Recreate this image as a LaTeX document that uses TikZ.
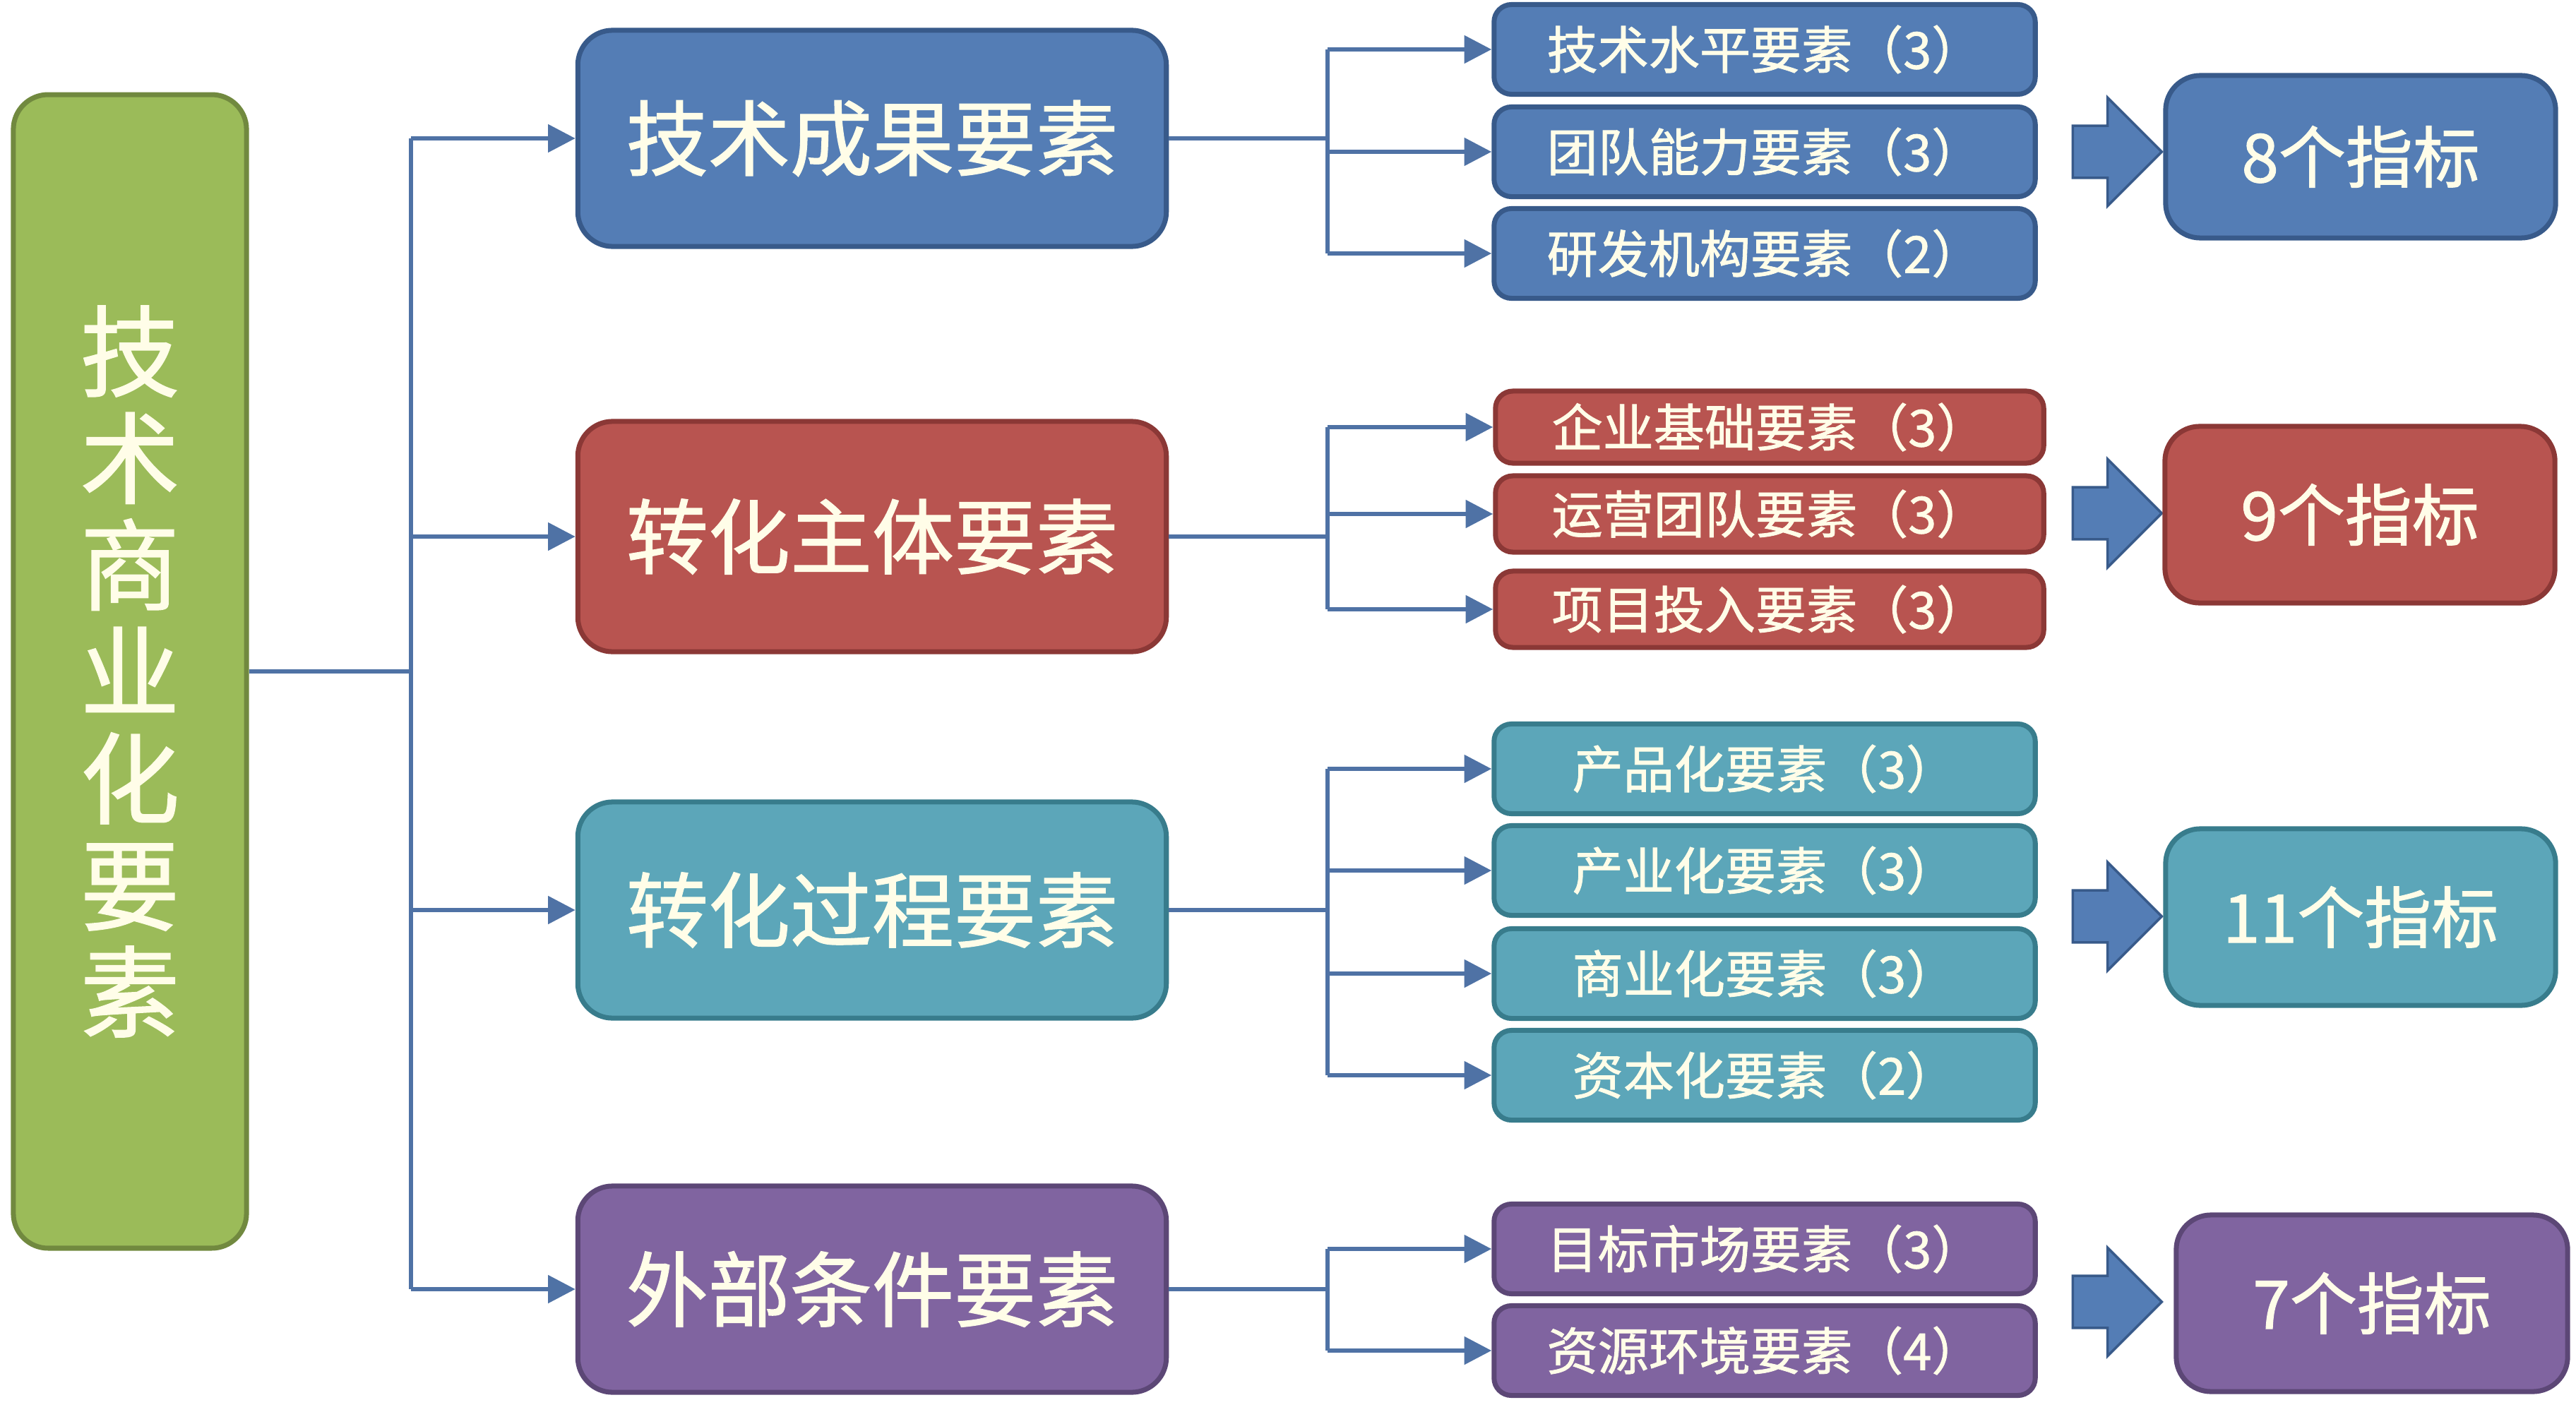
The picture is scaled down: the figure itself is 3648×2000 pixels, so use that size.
\documentclass[tikz,border=0pt]{standalone}
\usepackage{fontspec}
\setmainfont{Noto Sans CJK SC}[BoldFont=Noto Sans CJK SC, BoldFeatures={FakeBold=1.2}]
\usetikzlibrary{arrows.meta,shapes.arrows}
\definecolor{rootfill}{RGB}{155,187,89}
\definecolor{rootline}{RGB}{113,137,63}
\definecolor{bluefill}{RGB}{84,125,181}
\definecolor{blueline}{RGB}{56,90,138}
\definecolor{redfill}{RGB}{184,84,80}
\definecolor{redline}{RGB}{139,56,54}
\definecolor{tealfill}{RGB}{92,166,185}
\definecolor{tealline}{RGB}{56,124,140}
\definecolor{purplefill}{RGB}{128,100,160}
\definecolor{purpleline}{RGB}{92,71,118}
\definecolor{wire}{RGB}{79,114,165}
\definecolor{cream}{RGB}{255,253,232}

\begin{document}
\begin{tikzpicture}[x=0.01cm,y=-0.01cm,
  box/.style={draw, line width=2pt, rounded corners=14pt, text=cream, inner sep=0pt},
  rootbox/.style={box, fill=rootfill, draw=rootline, minimum width=3.3cm, minimum height=16.33cm,
    align=center, font=\fontsize{40}{43}\selectfont\bfseries},
  factor/.style={box, minimum width=8.33cm, minimum height=3.06cm, font=\fontsize{33}{38}\selectfont\bfseries},
  leaf/.style={box, rounded corners=7pt, minimum width=7.66cm, minimum height=1.27cm, font=\fontsize{20.5}{24}\selectfont\bfseries},
  total/.style={box, minimum width=5.52cm, minimum height=2.5cm, font=\fontsize{27}{32}\selectfont\bfseries},
  fat/.style={single arrow, draw=blueline, line width=1pt, fill=bluefill, inner xsep=0pt, inner ysep=0.35cm,
    minimum width=1.5cm, minimum height=1.26cm, single arrow head extend=0.4cm},
  link/.style={draw=wire, line width=1.8pt},
  arrow/.style={link, -{Triangle[length=11pt,width=11pt]}}]
\useasboundingbox (0,0) rectangle (3648,2000);

\node[rootbox] (root) at (184,951) {技\\术\\商\\业\\化\\要\\素};

\node[factor, fill=bluefill, draw=blueline, minimum height=3.06cm] (A) at (1235,196) {技术成果要素};
\node[factor, fill=redfill, draw=redline, minimum height=3.26cm] (B) at (1235,760) {转化主体要素};
\node[factor, fill=tealfill, draw=tealline, minimum height=3.06cm] (C) at (1235,1289) {转化过程要素};
\node[factor, fill=purplefill, draw=purpleline, minimum height=2.92cm] (D) at (1235,1826) {外部条件要素};

\node[leaf, fill=bluefill, draw=blueline] (A1) at (2499,70) {技术水平要素（3）};
\node[leaf, fill=bluefill, draw=blueline] (A2) at (2499,215) {团队能力要素（3）};
\node[leaf, fill=bluefill, draw=blueline] (A3) at (2499,359) {研发机构要素（2）};
\node[leaf, fill=redfill, draw=redline, minimum width=7.76cm, minimum height=1.02cm] (B1) at (2506,605) {企业基础要素（3）};
\node[leaf, fill=redfill, draw=redline, minimum width=7.76cm, minimum height=1.08cm] (B2) at (2506,728) {运营团队要素（3）};
\node[leaf, fill=redfill, draw=redline, minimum width=7.76cm, minimum height=1.08cm] (B3) at (2506,863) {项目投入要素（3）};
\node[leaf, fill=tealfill, draw=tealline] (C1) at (2499,1089) {产品化要素（3）};
\node[leaf, fill=tealfill, draw=tealline] (C2) at (2499,1233) {产业化要素（3）};
\node[leaf, fill=tealfill, draw=tealline] (C3) at (2499,1379) {商业化要素（3）};
\node[leaf, fill=tealfill, draw=tealline] (C4) at (2499,1523) {资本化要素（2）};
\node[leaf, fill=purplefill, draw=purpleline] (D1) at (2499,1769) {目标市场要素（3）};
\node[leaf, fill=purplefill, draw=purpleline] (D2) at (2499,1913) {资源环境要素（4）};

\node[fat] (fA) at (2980,215) {};
\node[fat] (fB) at (2980,727) {};
\node[fat] (fC) at (2980,1298) {};
\node[fat] (fD) at (2980,1844) {};

\node[total, fill=bluefill, draw=blueline, minimum height=2.3cm] (nA) at (3343,222) {8个指标};
\node[total, fill=redfill, draw=redline] (nB) at (3342,729) {9个指标};
\node[total, fill=tealfill, draw=tealline] (nC) at (3343,1299) {11个指标};
\node[total, fill=purplefill, draw=purpleline, minimum width=5.54cm] (nD) at (3359,1846) {7个指标};

\coordinate (bus) at (582,0);
\coordinate (busA) at (1880,0);
\draw[link] (root.east) -- (root.east -| bus);
\draw[link] (bus |- A.west) -- (bus |- D.west);
\draw[arrow] (bus |- A.west) -- (A.west);
\draw[arrow] (bus |- B.west) -- (B.west);
\draw[arrow] (bus |- C.west) -- (C.west);
\draw[arrow] (bus |- D.west) -- (D.west);

\draw[link] (A.east) -- (A.east -| busA);
\draw[link] (busA |- A1.west) -- (busA |- A3.west);
\draw[arrow] (busA |- A1.west) -- (A1.west);
\draw[arrow] (busA |- A2.west) -- (A2.west);
\draw[arrow] (busA |- A3.west) -- (A3.west);

\draw[link] (B.east) -- (B.east -| busA);
\draw[link] (busA |- B1.west) -- (busA |- B3.west);
\draw[arrow] (busA |- B1.west) -- (B1.west);
\draw[arrow] (busA |- B2.west) -- (B2.west);
\draw[arrow] (busA |- B3.west) -- (B3.west);

\draw[link] (C.east) -- (C.east -| busA);
\draw[link] (busA |- C1.west) -- (busA |- C4.west);
\draw[arrow] (busA |- C1.west) -- (C1.west);
\draw[arrow] (busA |- C2.west) -- (C2.west);
\draw[arrow] (busA |- C3.west) -- (C3.west);
\draw[arrow] (busA |- C4.west) -- (C4.west);

\draw[link] (D.east) -- (D.east -| busA);
\draw[link] (busA |- D1.west) -- (busA |- D2.west);
\draw[arrow] (busA |- D1.west) -- (D1.west);
\draw[arrow] (busA |- D2.west) -- (D2.west);
\end{tikzpicture}
\end{document}
